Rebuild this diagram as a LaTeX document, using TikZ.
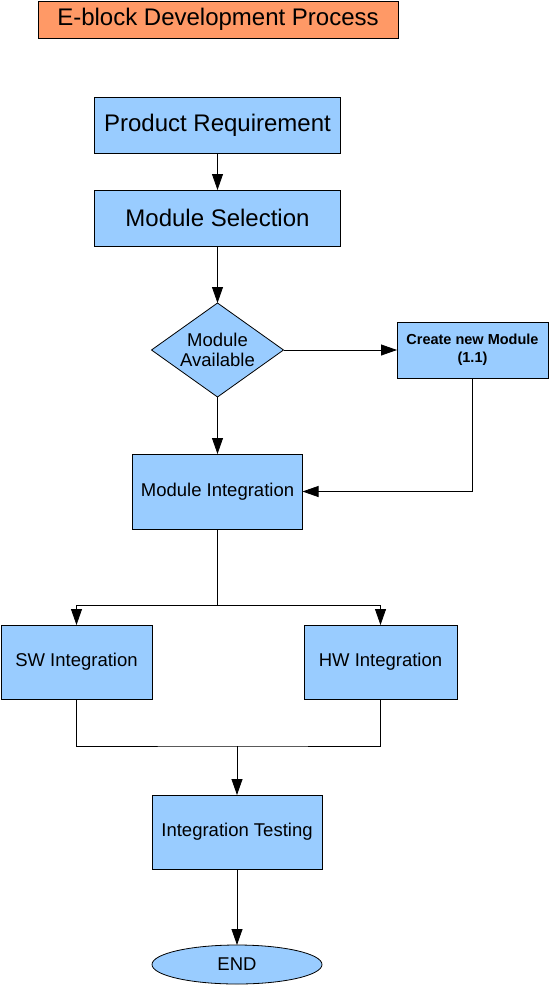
\documentclass[tikz,border=0pt]{standalone}
\usepackage{fontspec}
\setmainfont{Liberation Sans}
\usepackage{xcolor}
\usepackage{tikz}
\usetikzlibrary{shapes.geometric, arrows.meta, positioning, calc}
\definecolor{boxblue}{RGB}{153,204,255}
\definecolor{titleorange}{RGB}{255,153,102}

\tikzset{
  procbox/.style={draw=black, fill=boxblue, line width=0.8pt, inner sep=0pt, outer sep=0pt, align=center},
  bigtext/.style={font=\fontsize{24}{28}\selectfont},
  midtext/.style={font=\fontsize{18.5}{20.5}\selectfont},
  smalltext/.style={font=\fontsize{14.5}{18}\selectfont\bfseries},
  flowline/.style={line width=0.8pt},
  flowarrow/.style={line width=0.8pt, -{Triangle[length=16pt, width=11pt]}}
}

\begin{document}
\begin{tikzpicture}[x=1pt, y=-1pt]
\useasboundingbox (0,0) rectangle (550,985);

% title
\node[draw=black, fill=titleorange, line width=0.8pt, inner sep=0pt, bigtext,
      minimum width=360pt, minimum height=37pt]
  (title) at (218,19.5) {E-block Development Process};

% main flow
\node[procbox, bigtext, minimum width=246pt, minimum height=56pt] (req) at (217.5,125) {Product Requirement};
\node[procbox, bigtext, minimum width=246pt, minimum height=56pt] (sel) at (217.5,218) {Module Selection};
\node[procbox, midtext, shape=diamond, aspect=1.4, minimum width=132pt, minimum height=94pt] (avail) at (217.5,350)
  {Module\\Available};
\node[procbox, smalltext, minimum width=151pt, minimum height=56pt] (newmod) at (472.5,350)
  {Create new Module\\(1.1)};
\node[procbox, midtext, minimum width=170pt, minimum height=75pt] (integ) at (217.5,491.5) {Module Integration};
\node[procbox, midtext, minimum width=151pt, minimum height=74pt] (sw) at (76.5,662) {SW Integration};
\node[procbox, midtext, minimum width=153pt, minimum height=74pt] (hw) at (380.5,662) {HW Integration};
\node[procbox, midtext, minimum width=170pt, minimum height=74pt] (test) at (237,832) {Integration Testing};
\node[procbox, midtext, shape=ellipse, minimum width=170pt, minimum height=39pt] (end) at (237,964.5) {END};

\coordinate (split) at (217.5,605);
\coordinate (join) at (237,746);

% connectors
\draw[flowarrow] (req.south) -- (sel.north);
\draw[flowarrow] (sel.south) -- (avail.north);
\draw[flowarrow] (avail.east) -- (newmod.west);
\draw[flowarrow] (avail.south) -- (integ.north);
\draw[flowarrow] (newmod.south) |- (integ.east);
\draw[flowline] (integ.south) -- (split);
\draw[flowarrow] (split) -| (sw.north);
\draw[flowarrow] (split) -| (hw.north);
\draw[flowline] (sw.south) |- (join) -| (hw.south);
\draw[flowarrow] (join) -- (test.north);
\draw[flowarrow] (test.south) -- (end.north);
\end{tikzpicture}
\end{document}
